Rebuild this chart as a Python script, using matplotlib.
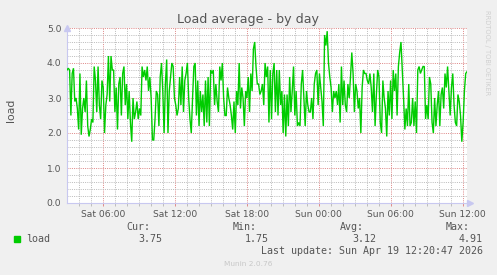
# Munin "Load average - by day" graph, redrawn with matplotlib
import numpy as np
import matplotlib
matplotlib.use("Agg")
import matplotlib.pyplot as plt
from matplotlib.ticker import MultipleLocator, FixedLocator, FormatStrFormatter

W, H, DPI = 497, 275, 100

# ── data (load average, 5-min samples, left -> right) ──
LOAD = [
    3.8, 3.85, 3.8, 2.5, 3.7, 3.85, 2.9, 3.0, 2.7, 2.1, 3.7, 1.95, 2.7, 3.0, 2.6, 3.5,
    2.2, 1.9, 2.1, 2.4, 2.3, 3.9, 3.5, 2.6, 3.9, 2.8, 2.4, 3.5, 3.3, 2.0, 2.8, 3.1,
    4.2, 2.9, 4.2, 3.8, 3.8, 2.6, 3.3, 2.1, 3.4, 3.6, 2.5, 3.7, 3.9, 2.8, 3.4, 2.4,
    3.2, 2.3, 1.75, 3.0, 2.4, 2.6, 2.9, 2.4, 2.7, 2.5, 3.9, 3.6, 3.8, 3.5, 3.9, 3.2,
    3.6, 3.0, 1.8, 1.8, 2.4, 3.2, 3.1, 2.2, 3.6, 4.0, 3.2, 2.0,
    3.4, 4.1, 2.0, 3.2, 3.6, 4.0, 3.9, 3.0, 2.8, 2.5, 2.7, 3.6, 2.8, 3.9, 2.6, 3.5,
    3.7, 4.0, 3.0, 2.4, 2.0, 3.0, 3.9, 4.0, 2.5, 3.5, 2.2, 3.2, 2.6, 3.1, 2.2, 3.5,
    2.3, 3.6, 2.2, 3.8, 3.7, 3.8, 2.8, 3.4, 2.9, 2.6, 3.9, 3.5, 4.0, 3.0, 2.5, 2.5,
    3.3, 3.0, 2.8, 2.5, 2.1, 2.9, 2.0, 3.2, 2.8, 4.0, 2.7, 3.3, 3.0, 2.2, 3.2, 3.0,
    3.6, 2.6, 3.7, 3.2, 4.4, 4.6, 3.9, 3.4, 3.4, 3.1, 3.2, 3.4, 2.8, 4.0, 3.6,
    3.9, 2.3, 3.8, 2.4, 3.7, 4.0, 2.6, 3.8, 2.5, 3.8, 2.8, 3.2, 2.0, 3.1, 1.9, 3.1,
    2.2, 3.6, 2.6, 3.2, 3.9, 2.5, 3.2, 2.2, 2.3, 2.2, 3.4, 3.8, 3.0, 2.2, 3.2, 2.8,
    2.6, 2.6, 3.0, 2.4, 3.4, 3.7, 3.8, 2.8, 3.7, 3.3, 2.9, 2.2, 4.8, 4.5, 4.91, 4.0,
    3.6, 3.3, 2.6, 3.2, 3.0, 3.2, 2.8, 3.4, 2.3, 3.9, 2.8, 3.5, 2.8, 2.6, 3.4, 3.0,
    3.6, 4.3, 3.7, 2.6, 3.4, 3.2, 2.7, 3.0, 2.0, 3.3, 3.8, 3.7, 3.7, 3.5,
    3.4, 3.7, 3.3, 2.6, 3.7, 2.2, 3.1, 3.8, 3.6, 2.3, 2.0, 3.5, 3.0, 2.7, 1.9, 3.2,
    2.5, 3.5, 2.4, 3.8, 3.2, 3.7, 2.5, 3.9, 4.3, 4.6, 3.8, 3.0, 2.1, 2.7, 2.2, 3.4,
    2.2, 2.3, 3.0, 2.2, 2.9, 2.0, 3.8, 3.9, 3.7, 3.8, 3.9, 3.9, 2.4, 2.8, 2.4, 3.6,
    3.4, 2.3, 2.0, 3.0, 2.2, 2.8, 3.2, 2.2, 3.1, 3.3, 2.7, 3.7, 3.3, 3.9, 3.2, 2.5,
    3.3, 3.7, 2.8, 2.3, 2.2, 3.1, 2.9, 2.5, 1.75, 2.3, 3.2, 3.7, 3.75,
]

# time window: hours since Sat 00:00; graph ends at "last update" (Sun 12:20:47)
T_END = 24 + 12 + 20 / 60 + 47 / 3600
T_START = T_END - 400 * 300 / 3600          # 400 px * 300 s per px

TICK_HOURS = [6, 12, 18, 24, 30, 36]
TICK_LABELS = ["Sat 06:00", "Sat 12:00", "Sat 18:00", "Sun 00:00", "Sun 06:00", "Sun 12:00"]

LEGEND_HEADS = ["Cur:", "Min:", "Avg:", "Max:"]
LEGEND_VALS = ["3.75", "1.75", "3.12", "4.91"]
LAST_UPDATE = "Last update: Sun Apr 19 12:20:47 2026"

# ── colours ──────────────────────────────────────────────────────────────
BG = "#f0f0f0"
TXT = "#555555"
GREEN = "#00cc00"
MAJOR = "#df8a8a"
MINOR = "#bdbdbd"
AXIS = "#c8c8f0"


def fx(x):
    return x / W


def fy(y):
    return 1 - y / H


fig = plt.figure(figsize=(W / DPI, H / DPI), dpi=DPI, facecolor=BG)
ax = fig.add_axes([fx(67), fy(203), 400 / W, 175 / H], facecolor="white")

t = np.linspace(T_START, T_END, len(LOAD))
ax.plot(t, LOAD, color=GREEN, lw=1.0, solid_joinstyle="miter", zorder=3)

ax.set_xlim(T_START, T_END)
ax.set_ylim(0, 5.0)

# grid: grey minor, red major, dotted
ax.xaxis.set_major_locator(FixedLocator(TICK_HOURS))
ax.xaxis.set_minor_locator(MultipleLocator(1))
ax.yaxis.set_major_locator(MultipleLocator(1.0))
ax.yaxis.set_minor_locator(MultipleLocator(0.2))
dots = (0, (1, 1.2))
ax.grid(which="minor", color=MINOR, ls=dots, lw=0.72)
ax.grid(which="major", color=MAJOR, ls=dots, lw=0.72)
ax.set_axisbelow(True)

ax.set_xticklabels(TICK_LABELS)
ax.yaxis.set_major_formatter(FormatStrFormatter("%.1f"))
ax.tick_params(which="both", colors=TXT, labelsize=6.6)
ax.tick_params(axis="y", which="both", length=0, pad=4)
ax.tick_params(axis="x", which="major", length=2, width=0.7, color=MAJOR, pad=3)
ax.tick_params(axis="x", which="minor", length=2, width=0.7, color=MINOR)

for s in ["top", "right"]:
    ax.spines[s].set_visible(False)
for s in ["left", "bottom"]:
    ax.spines[s].set_color(AXIS)
    ax.spines[s].set_linewidth(0.8)

# axis arrows
ax.plot([0], [1.0], marker="^", color=AXIS, ms=4, transform=ax.transAxes, clip_on=False)
ax.plot([1.0075], [0], marker=">", color=AXIS, ms=4, transform=ax.transAxes, clip_on=False)

# titles and side texts
fig.text(fx(248), fy(19), "Load average - by day", ha="center", va="center",
         fontsize=9.1, color=TXT)
fig.text(fx(11), fy(110), "load", ha="center", va="center", rotation=90,
         fontsize=7.8, color=TXT)
fig.text(fx(487), fy(53), "RRDTOOL / TOBI OETIKER", ha="center", va="center",
         rotation=270, fontsize=4.8, color="#d0d0d0")
fig.text(fx(248), fy(264), "Munin 2.0.76", ha="center", va="center",
         fontsize=5.3, color="#c8c8c8")

# legend block (monospace like munin)
mono = dict(family="DejaVu Sans Mono", fontsize=7.2, color=TXT, va="center")
fig.patches.append(plt.Rectangle((fx(14), fy(242)), 6 / W, 6 / H,
                                 transform=fig.transFigure, color=GREEN))
fig.text(fx(26), fy(239.5), "load", ha="left", **mono)
for i, (head, val) in enumerate(zip(LEGEND_HEADS, LEGEND_VALS)):
    fig.text(fx(150 + i * 106.7), fy(227), head, ha="right", **mono)
    fig.text(fx(162 + i * 107), fy(239.5), val, ha="right", **mono)
fig.text(fx(483), fy(251.5), LAST_UPDATE, ha="right", **mono)

fig.savefig("out.png", dpi=DPI, facecolor=BG)
